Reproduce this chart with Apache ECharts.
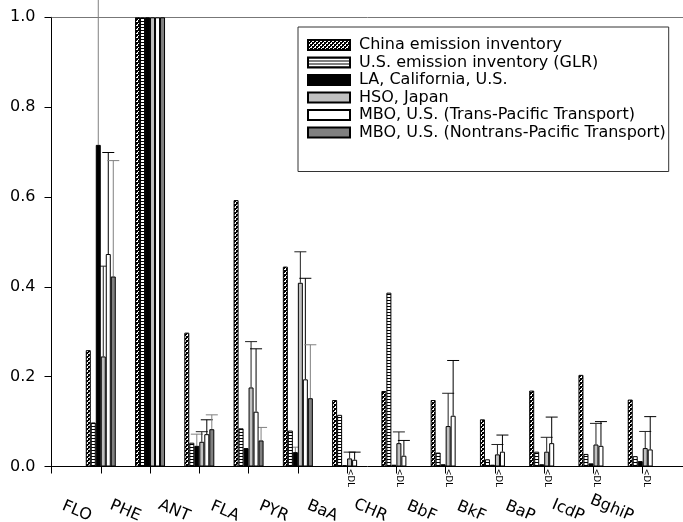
<!DOCTYPE html>
<html>
<head>
<meta charset="utf-8">
<script src="https://cdn.jsdelivr.net/npm/echarts@6/dist/echarts.min.js"></script>
<style>
html,body{margin:0;padding:0;background:#fff;}
#chart{width:683px;height:522px;}
</style>
</head>
<body>
<div id="chart"></div>
<script>
// ---------- data ----------
const categories = ['FLO','PHE','ANT','FLA','PYR','BaA','CHR','BbF','BkF','BaP','IcdP','BghiP'];
const seriesNames = [
  'China emission inventory',
  'U.S. emission inventory (GLR)',
  'LA, California, U.S.',
  'HSO, Japan',
  'MBO, U.S. (Trans-Pacific Transport)',
  'MBO, U.S. (Nontrans-Pacific Transport)'
];
const chinaEI = [0.259, 1.0, 0.298, 0.593, 0.445, 0.148, 0.168, 0.148, 0.105, 0.169, 0.204, 0.149];
const usEI    = [0.098, 1.0, 0.053, 0.085, 0.080, 0.115, 0.387, 0.031, 0.016, 0.033, 0.028, 0.023];
const laCA    = [0.716, 1.0, 0.046, 0.041, 0.032, 0.003, 0.004, 0.005, 0.004, 0.005, 0.007, 0.012];
const hsoJP   = [0.245, 1.0, 0.055, 0.176, 0.409, 0.018, 0.052, 0.090, 0.027, 0.033, 0.049, 0.041];
const mboTrans= [0.473, 1.0, 0.072, 0.122, 0.194, 0.015, 0.024, 0.113, 0.033, 0.052, 0.046, 0.038];
const mboNon  = [0.423, 1.0, 0.083, 0.058, 0.152, null, null, null, null, null, null, null];
// error bar (upper) magnitudes
const laErr      = [0.34, null, 0.026, null, 0.011, null, null, null, null, null, null, null];
const hsoErr     = [0.201, null, 0.0225, 0.102, 0.069, 0.014, 0.025, 0.073, 0.022, 0.032, 0.047, 0.037];
const mboTransErr= [0.226, null, 0.032, 0.140, 0.225, 0.017, 0.034, 0.123, 0.037, 0.058, 0.054, 0.073];
const mboNonErr  = [0.258, null, 0.032, 0.029, 0.119, null, null, null, null, null, null, null];
// categories where MBO (Nontrans-Pacific) is below detection limit
const belowDL = ['BaA','CHR','BbF','BkF','BaP','IcdP','BghiP'];
const yTicks = [0, 0.2, 0.4, 0.6, 0.8, 1.0];

// ---------- styling ----------
const FONT = 'DejaVu Sans';
const BAR_W = 5;
const CAP_W = 12;

function makePattern(w, h, fn) {
  const c = document.createElement('canvas');
  c.width = w; c.height = h;
  const ctx = c.getContext('2d');
  ctx.fillStyle = '#fff'; ctx.fillRect(0, 0, w, h);
  ctx.fillStyle = '#000';
  for (let y = 0; y < h; y++) for (let x = 0; x < w; x++) if (fn(x, y)) ctx.fillRect(x, y, 1, 1);
  return c;
}
const crossHatch = makePattern(4, 4, (x, y) => ((x >> 1) + (y >> 1)) % 2 === 1 || (x + y) % 4 === 0);
const hLines = makePattern(4, 3, (x, y) => y === 0);

const fills = [
  {image: crossHatch, repeat: 'repeat'},
  {image: hLines, repeat: 'repeat'},
  '#000000',
  '#c0c0c0',
  '#ffffff',
  '#808080'
];
const values = [chinaEI, usEI, laCA, hsoJP, mboTrans, mboNon];
const errSets = [
  {s: 2, err: laErr, color: '#808080'},
  {s: 3, err: hsoErr, color: '#222222'},
  {s: 4, err: mboTransErr, color: '#000000'},
  {s: 5, err: mboNonErr, color: '#808080'}
];

const pad = a => [null, ...a, null];
const axisCats = ['', ...categories, ''];

const barSeries = seriesNames.map((name, s) => ({
  type: 'bar', name, data: pad(values[s]),
  xAxisIndex: 0, yAxisIndex: 0,
  barWidth: BAR_W, barGap: '0%',
  itemStyle: {color: fills[s], borderColor: '#000', borderWidth: 1},
  z: 3, silent: true, animation: false
}));

const errSeries = errSets.map(({s, err, color}) => ({
  type: 'custom', xAxisIndex: 0, yAxisIndex: 0, z: 2, silent: true, clip: false,
  data: err.map((e, i) => (e == null ? null : [i + 1, values[s][i], e])).filter(d => d),
  encode: {x: 0, y: 1},
  renderItem: (params, api) => {
    const xi = api.value(0), v = api.value(1), e = api.value(2);
    const base = api.coord([xi, v]);
    const top = api.coord([xi, v + e]);
    const cx = base[0] + (s - 2.5) * BAR_W;
    return {
      type: 'group',
      children: [
        {type: 'line', shape: {x1: cx, y1: base[1], x2: cx, y2: top[1]}, style: {stroke: color, lineWidth: 1}},
        {type: 'line', shape: {x1: cx - CAP_W / 2, y1: top[1], x2: cx + CAP_W / 2, y2: top[1]}, style: {stroke: color, lineWidth: 1}}
      ]
    };
  }
}));

const dlSeries = {
  type: 'custom', xAxisIndex: 0, yAxisIndex: 0, z: 4, silent: true, clip: false,
  data: belowDL.map(c => [categories.indexOf(c) + 1, 0]),
  encode: {x: 0, y: 1},
  renderItem: (params, api) => {
    const p = api.coord([api.value(0), 0]);
    return {
      type: 'text', x: p[0] + 3, y: p[1] + 2, rotation: -Math.PI / 2,
      style: {text: '<DL', font: '8.5px "' + FONT + '"', fill: '#000', align: 'left', verticalAlign: 'middle'}
    };
  }
};

const chart = echarts.init(document.getElementById('chart'), null, {renderer: 'canvas'});
chart.setOption({
  animation: false,
  backgroundColor: '#fff',
  grid: {left: 51.5, right: -9, top: 17.3, bottom: 55.5, containLabel: false, outerBoundsMode: 'none'},
  legend: {
    orient: 'vertical', left: 298, top: 27,
    padding: [10, 3, 31, 9],
    backgroundColor: '#fff', borderColor: '#333', borderWidth: 1,
    itemWidth: 42, itemHeight: 10, itemGap: 1.5, icon: 'rect',
    textStyle: {fontFamily: FONT, fontSize: 16, color: '#000', padding: [0, 0, 0, 4]},
    data: seriesNames
  },
  xAxis: [
    {
      type: 'category', data: axisCats, boundaryGap: false, position: 'bottom',
      axisLine: {show: true, lineStyle: {color: '#000', width: 1}},
      axisTick: {show: true, length: 7, interval: 0, lineStyle: {color: '#000'}},
      axisLabel: {
        show: true, interval: 0, rotate: -23, align: 'right', verticalAlign: 'middle',
        margin: 55, fontFamily: FONT, fontSize: 16, color: '#000',
        formatter: v => v ? '{a|' + v + '}' : '',
        rich: {a: {fontFamily: FONT, fontSize: 16, color: '#000', padding: [0, 11, 0, 0]}}
      },
      splitLine: {show: false}
    },
    {
      type: 'category', data: axisCats, boundaryGap: false, position: 'top',
      axisLine: {show: true, lineStyle: {color: '#777', width: 1}},
      axisTick: {show: false}, axisLabel: {show: false}, splitLine: {show: false}
    }
  ],
  yAxis: {
    type: 'value', min: yTicks[0], max: yTicks[yTicks.length - 1], interval: 0.2,
    axisLine: {show: true, lineStyle: {color: '#000', width: 1}},
    axisTick: {show: true, length: 7, lineStyle: {color: '#000'}},
    axisLabel: {margin: 16, fontFamily: FONT, fontSize: 16, color: '#000', formatter: v => v.toFixed(1)},
    splitLine: {show: false}
  },
  series: [...errSeries, ...barSeries, dlSeries]
});
</script>
</body>
</html>
